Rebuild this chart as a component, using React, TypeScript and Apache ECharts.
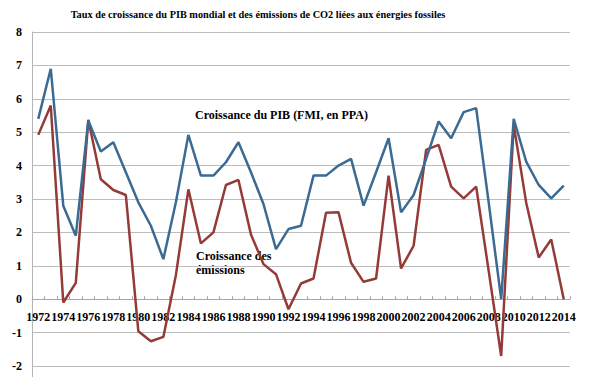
import React, { useEffect, useRef } from "react";
import * as echarts from "echarts";

const years: string[] = [];
for (let y = 1972; y <= 2014; y++) years.push(String(y));

const pibGrowth = [
  5.4, 6.9, 2.8, 1.9, 5.35, 4.42, 4.7, 3.8, 2.9, 2.2,
  1.2, 2.9, 4.92, 3.7, 3.7, 4.1, 4.7, 3.8, 2.85, 1.5,
  2.1, 2.2, 3.7, 3.7, 4.0, 4.2, 2.8, 3.8, 4.82, 2.6,
  3.12, 4.2, 5.32, 4.82, 5.6, 5.72, 2.9, 0.0, 5.4, 4.12,
  3.42, 3.02, 3.4,
];

const emissionsGrowth = [
  4.92, 5.8, -0.1, 0.49, 5.37, 3.59, 3.27, 3.12, -0.96, -1.26,
  -1.13, 0.72, 3.29, 1.67, 2.0, 3.42, 3.57, 1.94, 1.05, 0.75,
  -0.3, 0.47, 0.62, 2.59, 2.6, 1.09, 0.52, 0.62, 3.7, 0.92,
  1.6, 4.47, 4.62, 3.37, 3.02, 3.37, 0.85, -1.7, 5.22, 2.89,
  1.25, 1.79, 0.0,
];

const yTicks = { min: -2, max: 8, interval: 1 };

const SERIF = "Liberation Serif";

export default function App() {
  const ref = useRef<HTMLDivElement>(null);
  useEffect(() => {
    if (!ref.current) return;
    const chart = echarts.init(ref.current, null, { renderer: "svg" });
    const gridTop = 32;
    const gridBottom = 22;
    const plotH = 388 - gridTop - gridBottom;
    const zeroOffset = (plotH * (0 - yTicks.min)) / (yTicks.max - yTicks.min);
    chart.setOption({
      animation: false,
      backgroundColor: "#ffffff",
      textStyle: { fontFamily: SERIF },
      grid: { left: 32, right: 24, top: gridTop, bottom: gridBottom, containLabel: false },
      xAxis: {
        type: "category",
        data: years,
        boundaryGap: true,
        offset: -zeroOffset,
        axisLine: { onZero: false, lineStyle: { color: "#a6a6a6", width: 1 } },
        axisTick: { show: true, inside: true, length: 3, interval: 0, lineStyle: { color: "#a6a6a6" } },
        axisLabel: {
          interval: 1,
          margin: 12,
          fontFamily: SERIF,
          fontSize: 12,
          fontWeight: "bold",
          color: "#000",
        },
        splitLine: { show: false },
      },
      yAxis: {
        type: "value",
        min: yTicks.min,
        max: yTicks.max,
        interval: yTicks.interval,
        axisLine: { show: true, lineStyle: { color: "#b5b5b5", width: 1 } },
        axisTick: { show: false },
        axisLabel: {
          margin: 10,
          fontFamily: SERIF,
          fontSize: 12,
          fontWeight: "bold",
          color: "#000",
        },
        splitLine: { show: true, lineStyle: { color: "#bdbdbd", width: 1 } },
      },
      series: [
        {
          name: "PIB",
          type: "line",
          data: pibGrowth,
          symbol: "none",
          lineStyle: { color: "#3b6a93", width: 2.5 },
          z: 3,
        },
        {
          name: "Emissions",
          type: "line",
          data: emissionsGrowth,
          symbol: "none",
          lineStyle: { color: "#943a37", width: 2.5 },
          z: 2,
        },
      ],
      graphic: [
        {
          type: "text",
          x: 258,
          y: 9,
          style: {
            text: "Taux de croissance du PIB mondial et des émissions de CO2 liées aux énergies fossiles",
            font: "bold 10.3px " + SERIF,
            fill: "#000",
            align: "center",
          },
        },
        {
          type: "line",
          shape: { x1: 32.5, y1: 366, x2: 32.5, y2: 377 },
          style: { stroke: "#b5b5b5", lineWidth: 1 },
        },
        {
          type: "text",
          x: 195,
          y: 109,
          style: {
            text: "Croissance du PIB (FMI, en PPA)",
            font: "bold 12px " + SERIF,
            fill: "#000",
          },
        },
        {
          type: "text",
          x: 196,
          y: 249,
          style: {
            text: "Croissance des\némissions",
            font: "bold 12px " + SERIF,
            lineHeight: 14,
            fill: "#000",
          },
        },
      ],
    });
    return () => chart.dispose();
  }, []);
  return <div ref={ref} style={{ width: 594, height: 388, margin: -8 }} />;
}
